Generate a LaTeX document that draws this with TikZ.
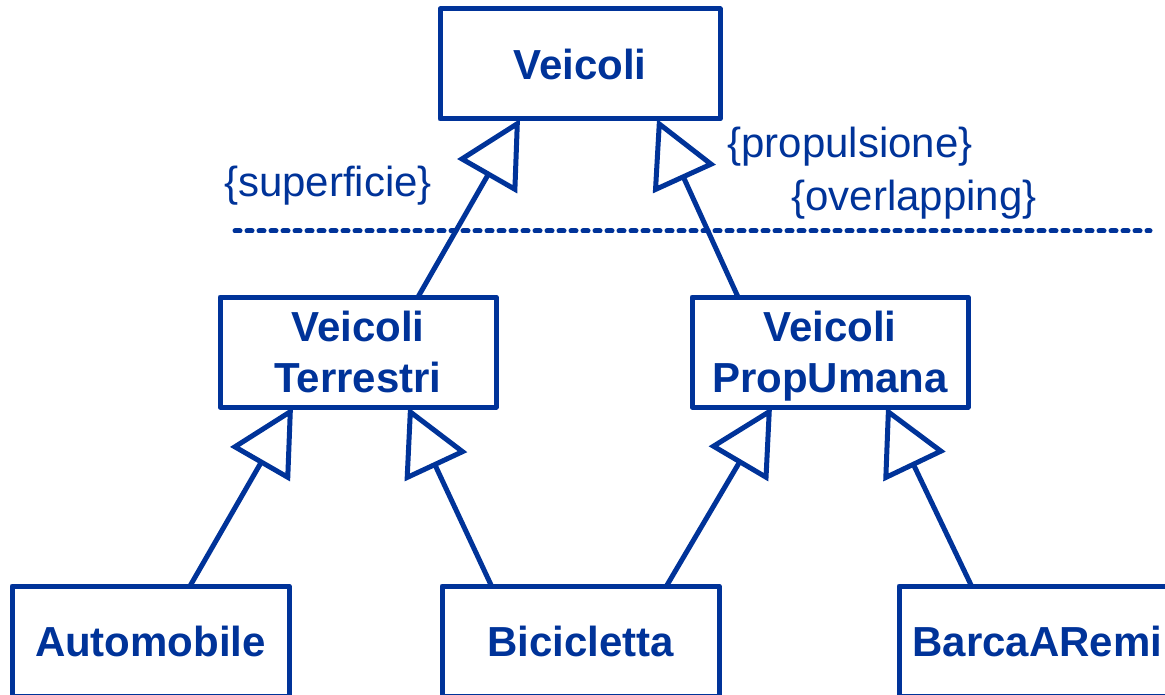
\documentclass[tikz,border=0pt]{standalone}
\usepackage{fontspec}
\setmainfont{Liberation Sans}
\usetikzlibrary{arrows.meta}
\definecolor{umlblue}{RGB}{0,51,153}
\begin{document}
\begin{tikzpicture}[x=1pt,y=-1pt,
  every node/.style={inner sep=0pt, outer sep=0pt},
  classbox/.style={draw=umlblue, line width=5pt, line join=round, minimum height=110pt,
    text=umlblue, align=center, text depth=0pt,
    font=\fontsize{42}{51}\selectfont\bfseries},
  constraint/.style={text=umlblue, font=\fontsize{42}{48}\selectfont},
  generalizes/.style={draw=umlblue, line width=5pt,
    -{Triangle[open, length=66pt, width=68pt, line join=miter]}},
  setline/.style={draw=umlblue, line width=5pt, line cap=round, dash pattern=on 5pt off 7pt}]
  \useasboundingbox (0,0) rectangle (1165,695);
  \clip (0,0) rectangle (1165,695);

  % classes
  \node[classbox, minimum width=280pt] (veicoli) at (580,64) {Veicoli};
  \node[classbox, minimum width=276pt] (terr) at (358,352) {Veicoli\\Terrestri};
  \node[classbox, minimum width=276pt] (prop) at (830,352) {Veicoli\\PropUmana};
  \node[classbox, minimum width=277pt] (auto) at (150.5,641) {Automobile};
  \node[classbox, minimum width=277pt] (bici) at (580.5,641) {Bicicletta};
  \node[classbox, minimum width=277pt] (barca) at (1037.5,641) {BarcaARemi};

  % generalization arrows
  \draw[generalizes] ([xshift=60pt]terr.north) -- ([xshift=-60pt]veicoli.south);
  \draw[generalizes] ([xshift=-92pt]prop.north) -- ([xshift=77pt]veicoli.south);
  \draw[generalizes] ([xshift=39.5pt]auto.north) -- ([xshift=-65pt]terr.south);
  \draw[generalizes] ([xshift=-89pt]bici.north) -- ([xshift=50pt]terr.south);
  \draw[generalizes] ([xshift=86pt]bici.north) -- ([xshift=-58pt]prop.south);
  \draw[generalizes] ([xshift=-66pt]barca.north) -- ([xshift=56pt]prop.south);

  % generalization set separator
  \coordinate (sepL) at (235,231);
  \coordinate (sepR) at (1150,231);
  \draw[setline] (sepL) -- (sepR);

  % constraints
  \node[constraint] (sup) at (328,186) {\{superficie\}};
  \node[constraint] (pro) at (850,147) {\{propulsione\}};
  \node[constraint] (ovl) at (914,200) {\{overlapping\}};
\end{tikzpicture}
\end{document}
